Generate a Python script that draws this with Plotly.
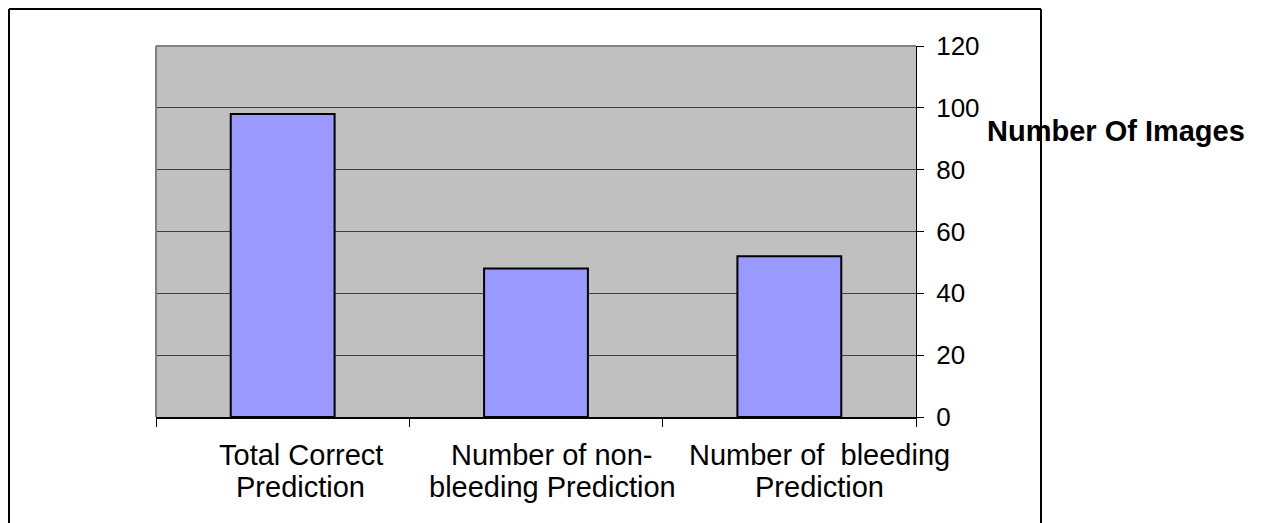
import plotly.graph_objects as go

categories = ["Total Correct<br>Prediction",
              "Number of non-<br>bleeding Prediction",
              "Number of \u00a0bleeding<br>Prediction"]
values = [98, 48, 52]
y_ticks = [0, 20, 40, 60, 80, 100, 120]
axis_title = "Number Of Images"

# style: horizontal offset of each category label (px), as in the original
label_xshift = [18, 16, 30]

OFF = 8  # page body margin
W, H = 1269 - OFF, 523 - OFF
L, R, T, B = 156 - OFF, 916 - OFF, 46 - OFF, 416.7 - OFF
pw, ph = R - L, B - T

def px(x):
    return (x - OFF - L) / pw

def py(y):
    return (B - (y - OFF)) / ph

fig = go.Figure()
fig.add_trace(go.Bar(
    x=categories, y=values,
    marker=dict(color="#9999FF", line=dict(color="#000000", width=2)),
    width=0.41,
))

annotations = [
    dict(text="<b>" + axis_title + "</b>", xref="paper", yref="paper",
         x=px(985), y=py(131), xanchor="left", yanchor="middle",
         showarrow=False, font=dict(size=29, color="black")),
]
line_y = [455, 487]
for cat, xs in zip(categories, label_xshift):
    for i, part in enumerate(cat.split("<br>")):
        annotations.append(dict(
            text=part, x=cat, xref="x", y=py(line_y[i]), yref="paper",
            xanchor="center", yanchor="middle", xshift=xs, showarrow=False,
            font=dict(size=29, color="black"),
        ))

fig.update_layout(
    width=W, height=H,
    margin=dict(l=L, r=W - R, t=T, b=H - B, pad=0, autoexpand=False),
    paper_bgcolor="white",
    plot_bgcolor="#C0C0C0",
    showlegend=False,
    font=dict(family="Liberation Sans, Arial, sans-serif", size=26, color="black"),
    xaxis=dict(
        type="category", categoryorder="array", categoryarray=categories,
        range=[-0.5, len(categories) - 0.5], autorange=False,
        tickson="boundaries", ticks="outside", ticklen=8,
        tickcolor="#000000", tickwidth=1, showgrid=False,
        showline=True, linecolor="#000000", linewidth=2,
        showticklabels=False, zeroline=False, automargin=False,
    ),
    yaxis=dict(
        side="right", range=[0, 120], tickvals=y_ticks,
        ticks="outside", ticklen=7, tickcolor="#000000", tickwidth=1,
        showgrid=True, gridcolor="#404040", gridwidth=1,
        showline=True, linecolor="#000000", linewidth=1,
        zeroline=False, tickfont=dict(size=26), ticklabelstandoff=7,
        automargin=False,
    ),
    shapes=[
        dict(type="line", xref="paper", yref="paper", x0=0, x1=1, y0=1, y1=1,
             line=dict(color="#808080", width=2)),
        dict(type="line", xref="paper", yref="paper", x0=0, x1=0, y0=0, y1=1,
             line=dict(color="#808080", width=2)),
        dict(type="line", xref="paper", yref="paper", x0=px(9), x1=px(1041),
             y0=py(9), y1=py(9), line=dict(color="#000000", width=2)),
        dict(type="line", xref="paper", yref="paper", x0=px(9), x1=px(9),
             y0=py(9), y1=py(530), line=dict(color="#000000", width=2)),
        dict(type="line", xref="paper", yref="paper", x0=px(1041), x1=px(1041),
             y0=py(9), y1=py(530), line=dict(color="#000000", width=2)),
    ],
    annotations=annotations,
)

fig.write_html("out.html")
